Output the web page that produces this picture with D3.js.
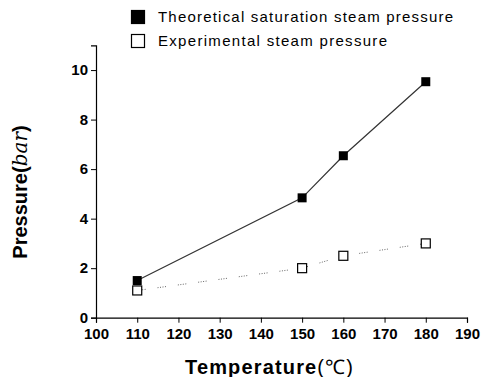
<!DOCTYPE html>
<html lang="en">
<head>
  <meta charset="UTF-8">
  <title>Steam Pressure</title>
  <style>
    body { margin: 0; background: #fff; }
    text { font-family: "Liberation Sans", Arial, sans-serif; }
  </style>
</head>
<body>
  <script src="https://d3js.org/d3.v7.min.js"></script>
  <script>
    const temperatures = [110, 150, 160, 180];
    const theoretical = [1.5, 4.84, 6.54, 9.53];
    const experimental = [1.1, 2.0, 2.5, 3.0];
    const seriesNames = ["Theoretical saturation steam pressure", "Experimental steam pressure"];
    const xTicks = [100, 110, 120, 130, 140, 150, 160, 170, 180, 190];
    const yTicks = [0, 2, 4, 6, 8, 10];

    const width = 482, height = 377;

    const svg = d3.select("body").append("svg")
      .attr("width", width)
      .attr("height", height);

    const x = d3.scaleLinear().domain([100, 190]).range([96, 467]);
    const y = d3.scaleLinear().domain([0, 11]).range([317.7, 45.3]);

    // x axis
    const xAxis = svg.append("g").attr("transform", `translate(0,${y(0)})`);
    xAxis.call(d3.axisBottom(x).tickValues(d3.range(105, 190, 10)).tickSize(3).tickFormat(""));
    xAxis.call(d3.axisBottom(x).tickValues(xTicks).tickSize(5).tickPadding(6).tickFormat(d3.format("d")));
    xAxis.selectAll("text").attr("font-size", 15).attr("font-weight", "bold").attr("fill", "#000");

    // y axis
    const yAxis = svg.append("g").attr("transform", `translate(${x(100)},0)`);
    yAxis.call(d3.axisLeft(y).tickValues([1, 3, 5, 7, 9]).tickSize(3).tickFormat(""));
    yAxis.call(d3.axisLeft(y).tickValues(yTicks).tickSize(5).tickPadding(3));
    yAxis.selectAll("text").attr("font-size", 15).attr("font-weight", "bold").attr("fill", "#000");
    svg.selectAll(".domain").attr("stroke", "#000").attr("stroke-width", 1.2);

    const pts = temperatures.map((t, i) => ({ t, th: theoretical[i], ex: experimental[i] }));

    // lines
    svg.append("path").datum(pts)
      .attr("fill", "none").attr("stroke", "#333").attr("stroke-width", 1.2)
      .attr("d", d3.line().x(d => x(d.t)).y(d => y(d.th)));

    svg.append("path").datum(pts)
      .attr("fill", "none").attr("stroke", "#666").attr("stroke-width", 1)
      .attr("stroke-dasharray", "1,1.5,1,1.5,1,1.5,1,12")
      .attr("d", d3.line().x(d => x(d.t)).y(d => y(d.ex)));

    // markers
    const s = 9;
    svg.append("g").selectAll("rect").data(pts).join("rect")
      .attr("x", d => x(d.t) - s / 2).attr("y", d => y(d.th) - s / 2)
      .attr("width", s).attr("height", s).attr("fill", "#000");
    svg.append("g").selectAll("rect").data(pts).join("rect")
      .attr("x", d => x(d.t) - s / 2).attr("y", d => y(d.ex) - s / 2)
      .attr("width", s).attr("height", s).attr("fill", "#fff")
      .attr("stroke", "#000").attr("stroke-width", 1.2);

    // legend
    const legend = svg.append("g");
    const lgY = [17, 41];
    const lgW = [295, 229];
    seriesNames.forEach((name, i) => {
      legend.append("rect")
        .attr("x", 131.5).attr("y", lgY[i] - 6.5).attr("width", 13).attr("height", 13)
        .attr("fill", i === 0 ? "#000" : "#fff").attr("stroke", "#000").attr("stroke-width", 1.2);
      legend.append("text")
        .attr("x", 158).attr("y", lgY[i] + 5)
        .attr("font-size", 15)
        .attr("textLength", lgW[i]).attr("lengthAdjust", "spacing")
        .text(name);
    });

    // axis titles
    const xt = svg.append("text")
      .attr("x", 269).attr("y", 374)
      .attr("text-anchor", "middle")
      .attr("font-size", 20).attr("font-weight", "bold")
      .attr("textLength", 168).attr("lengthAdjust", "spacing");
    xt.append("tspan").text("Temperature");
    xt.append("tspan").attr("font-weight", "normal").text("(℃)");

    const yt = svg.append("text")
      .attr("transform", "translate(27,192) rotate(-90)")
      .attr("text-anchor", "middle")
      .attr("font-size", 20).attr("font-weight", "bold");
    yt.append("tspan").text("Pressure(");
    yt.append("tspan").attr("font-family", "'DejaVu Serif', serif").attr("font-style", "italic").attr("font-weight", "normal").text("bar");
    yt.append("tspan").text(")");
  </script>
</body>
</html>
